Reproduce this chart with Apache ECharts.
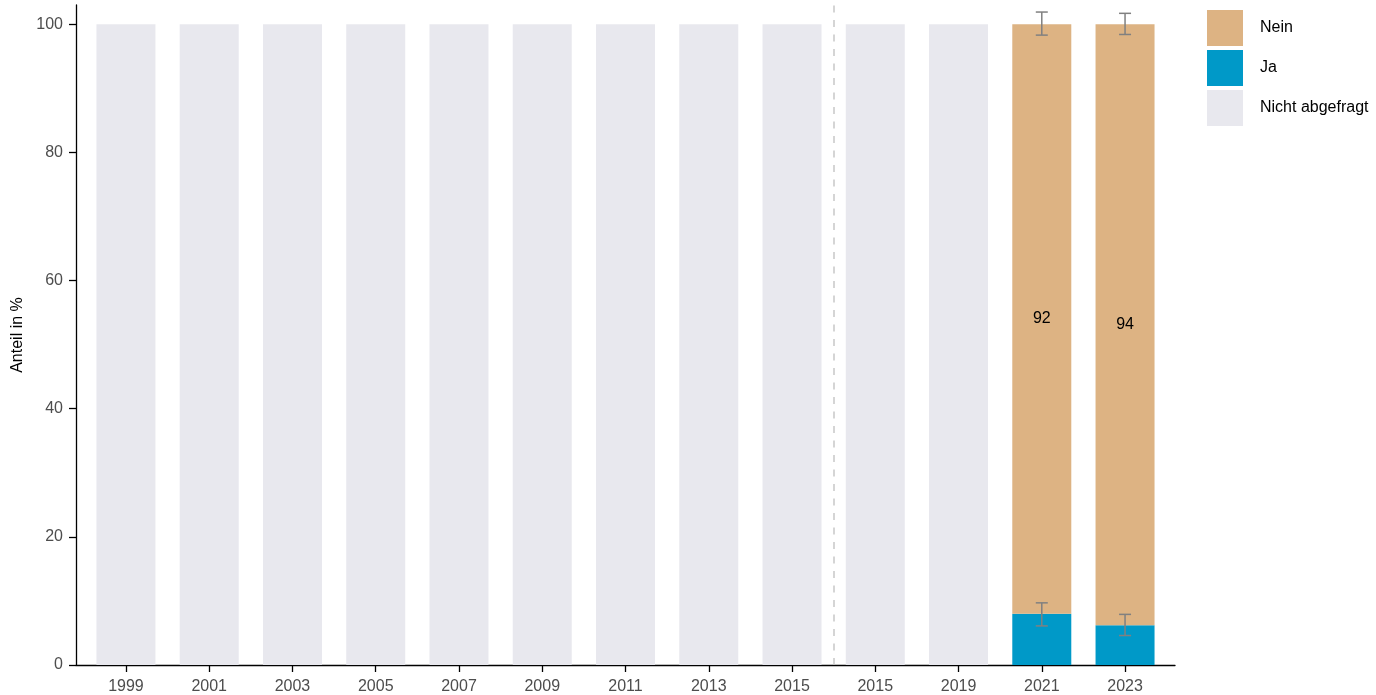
<!DOCTYPE html>
<html>
<head>
<meta charset="utf-8">
<script src="https://cdn.jsdelivr.net/npm/echarts@6/dist/echarts.min.js"></script>
<style>
html,body{margin:0;padding:0;background:#fff;}
#chart{width:1376px;height:695px;}
</style>
</head>
<body>
<div id="chart"></div>
<script>
const categories = ['1999','2001','2003','2005','2007','2009','2011','2013','2015','2015','2019','2021','2023'];
const nichtAbgefragt = [100,100,100,100,100,100,100,100,100,100,100,null,null];
const ja = [null,null,null,null,null,null,null,null,null,null,null,8.0,6.2];
const nein = [null,null,null,null,null,null,null,null,null,null,null,92.0,93.8];
const jaLow = [null,null,null,null,null,null,null,null,null,null,null,6.1,4.6];
const jaHigh = [null,null,null,null,null,null,null,null,null,null,null,9.7,7.9];
const neinLow = [null,null,null,null,null,null,null,null,null,null,null,98.3,98.4];
const neinHigh = [null,null,null,null,null,null,null,null,null,null,null,101.9,101.7];
const yTicks = [0,20,40,60,80,100];
const breakAfter = 8.5;

const FONT = 'Liberation Sans, Arial, sans-serif';
const FS = 16;
const COL_NEIN = '#DDB383';
const COL_JA = '#0099C8';
const COL_NICHT = '#E8E8EE';

const idx = categories.map((c,i)=>i);
// value first, index second -> stacking happens on the y (value) dimension
const pair = arr => arr.map((v,i)=>[v,i]);

const errData = [];
idx.forEach(i=>{
  if (jaLow[i]!=null) errData.push([i, jaLow[i], jaHigh[i]]);
  if (neinLow[i]!=null) errData.push([i, neinLow[i], neinHigh[i]]);
});

const chart = echarts.init(document.getElementById('chart'));
chart.setOption({
  animation:false,
  textStyle:{fontFamily:FONT},
  grid:{left:76,right:201,top:5,bottom:30},
  legend:{
    orient:'vertical', left:1207, top:10, padding:0,
    itemWidth:36, itemHeight:36, itemGap:4, icon:'rect',
    data:['Nein','Ja','Nicht abgefragt'],
    textStyle:{fontSize:FS,color:'#000',fontFamily:FONT,padding:[2,0,0,12]}
  },
  xAxis:{
    type:'value', min:-0.6, max:12.6,
    axisLine:{show:true,onZero:false,lineStyle:{color:'#000',width:1.3}},
    axisTick:{show:true,length:7,lineStyle:{color:'#000',width:1.3},customValues:idx},
    axisLabel:{show:true,customValues:idx,margin:14,fontSize:FS,color:'#4d4d4d',fontFamily:FONT,
      formatter:v=>categories[Math.round(v)]},
    splitLine:{show:false}
  },
  yAxis:{
    type:'value', min:0, max:103,
    name:'Anteil in %', nameLocation:'middle', nameGap:48,
    nameTextStyle:{fontSize:FS,color:'#000',fontFamily:FONT},
    axisLine:{show:true,onZero:false,lineStyle:{color:'#000',width:1.3}},
    axisTick:{show:true,length:7,lineStyle:{color:'#000',width:1.3},customValues:yTicks},
    axisLabel:{show:true,customValues:yTicks,margin:13,fontSize:FS,color:'#4d4d4d',fontFamily:FONT},
    splitLine:{show:false}
  },
  series:[
    {
      name:'Nicht abgefragt', type:'bar', stack:'s', barWidth:59,
      encode:{x:1,y:0},
      itemStyle:{color:COL_NICHT}, data:pair(nichtAbgefragt),
      markLine:{
        silent:true, symbol:'none', label:{show:false},
        lineStyle:{color:'#c8c8c8',type:[7,7.5],width:1.5},
        data:[{xAxis:breakAfter}]
      }
    },
    {
      name:'Ja', type:'bar', stack:'s', barWidth:59,
      encode:{x:1,y:0},
      itemStyle:{color:COL_JA}, data:pair(ja)
    },
    {
      name:'Nein', type:'bar', stack:'s', barWidth:59,
      encode:{x:1,y:0},
      itemStyle:{color:COL_NEIN}, data:pair(nein),
      label:{show:true,position:'inside',fontSize:FS,color:'#000',fontFamily:FONT,
        formatter:p=>p.value[0]==null?'':String(Math.round(p.value[0]))}
    },
    {
      type:'custom', name:'err', silent:true, z:10,
      data:errData,
      encode:{x:0,y:[1,2]},
      renderItem:(params,api)=>{
        const x = api.value(0);
        const lo = api.coord([x, api.value(1)]);
        const hi = api.coord([x, api.value(2)]);
        const w = 6;
        const st = {stroke:'#808080',lineWidth:1.5};
        return {type:'group',children:[
          {type:'line',shape:{x1:lo[0],y1:lo[1],x2:hi[0],y2:hi[1]},style:st},
          {type:'line',shape:{x1:lo[0]-w,y1:lo[1],x2:lo[0]+w,y2:lo[1]},style:st},
          {type:'line',shape:{x1:hi[0]-w,y1:hi[1],x2:hi[0]+w,y2:hi[1]},style:st}
        ]};
      }
    }
  ]
});
</script>
</body>
</html>
